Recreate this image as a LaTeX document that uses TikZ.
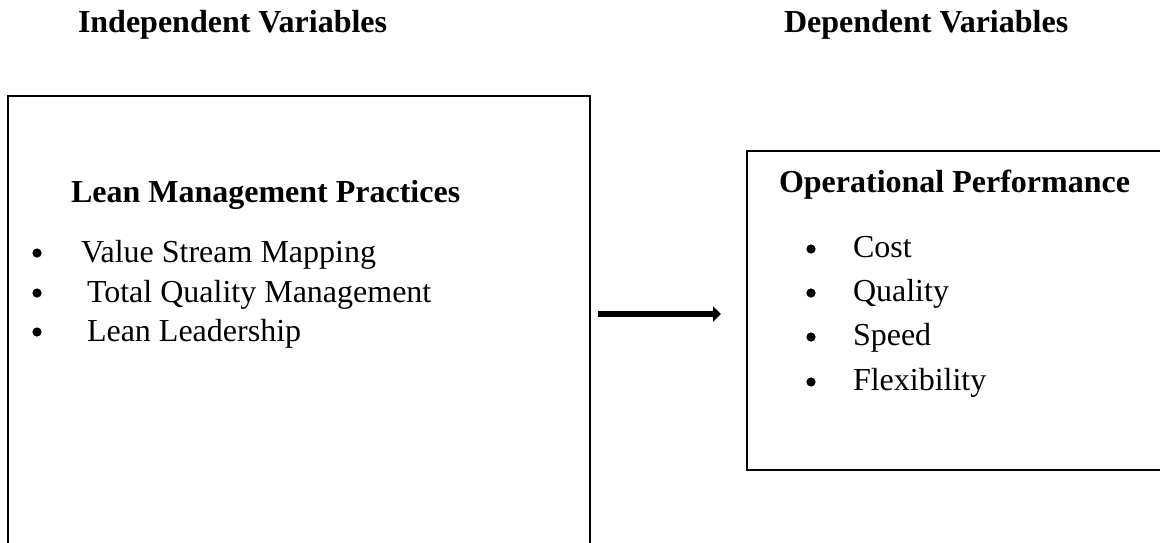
\documentclass[tikz,border=0pt]{standalone}
\usepackage{fontspec}
\setmainfont{Liberation Serif}
\usetikzlibrary{arrows.meta}
\begin{document}
\begin{tikzpicture}[x=0.5pt,y=-0.5pt,
  txt/.style={inner sep=0pt, outer sep=0pt, anchor=base west, font=\fontsize{16}{19}\selectfont},
  hdr/.style={txt, font=\fontsize{16}{19}\selectfont\bfseries},
  bul/.style={circle, fill, draw=none, inner sep=0pt, minimum size=4.6pt},
  frame/.style={draw, line width=1.25pt, inner sep=0pt, outer sep=0pt, anchor=north west, fill=none},
  conn/.style={line width=3pt, -{Triangle[length=4pt,width=7.5pt]}}]
\useasboundingbox (0,0) rectangle (1160,542);
\clip (0,0) rectangle (1160,542);
% headers
\node[hdr] (indep) at (78,32) {Independent Variables};
\node[hdr] (dep) at (784,32) {Dependent Variables};
% boxes
\node[frame, minimum width=291pt, minimum height=240pt] (leftbox) at (8,96) {};
\node[frame, minimum width=215pt, minimum height=159.5pt] (rightbox) at (747,151) {};
% left content
\node[hdr] (lmp) at (71,202) {Lean Management Practices};
\node[bul] (b1) at (37,253) {};
\node[txt] (vsm) at (81,262) {Value Stream Mapping};
\node[bul] (b2) at (37,293) {};
\node[txt] (tqm) at (87,302) {Total Quality Management};
\node[bul] (b3) at (37,332) {};
\node[txt] (ll) at (87,341) {Lean Leadership};
% right content
\node[hdr] (op) at (779,192) {Operational Performance};
\node[bul] (c1) at (811,249) {};
\node[txt] (cost) at (853,257) {Cost};
\node[bul] (c2) at (811,293) {};
\node[txt] (qual) at (853,301) {Quality};
\node[bul] (c3) at (811,337) {};
\node[txt] (speed) at (853,345) {Speed};
\node[bul] (c4) at (811,382) {};
\node[txt] (flex) at (853,390) {Flexibility};
% arrow
\coordinate (a1) at (598,314);
\coordinate (a2) at (721,314);
\draw[conn] (a1) -- (a2);
\end{tikzpicture}
\end{document}
